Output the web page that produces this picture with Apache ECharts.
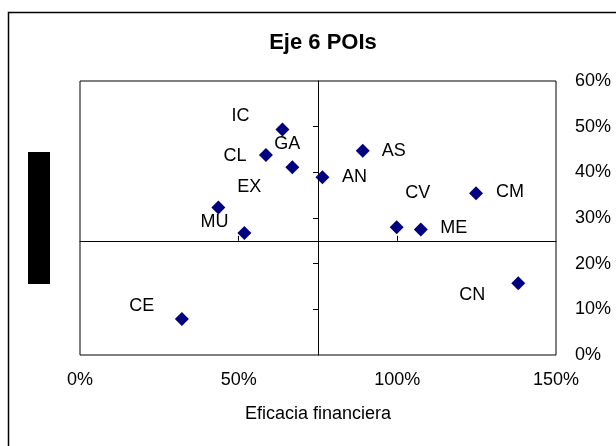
<!DOCTYPE html>
<html>
<head>
<meta charset="utf-8">
<script src="https://cdn.jsdelivr.net/npm/echarts@6/dist/echarts.min.js"></script>
<style>
html,body{margin:0;padding:0;background:#fff;}
#chart{width:616px;height:446px;}
</style>
</head>
<body>
<div id="chart"></div>
<script>
// Data (percent values)
var labels = ['IC','CL','GA','AN','EX','MU','CE','AS','CM','CV','ME','CN'];
var xValues = [63.8, 58.6, 66.9, 76.4, 43.6, 51.8, 32.1, 89.1, 124.8, 99.8, 107.4, 138.1];
var yValues = [49.4, 43.8, 41.1, 38.9, 32.3, 26.7, 7.9, 44.7, 35.4, 28.0, 27.5, 15.7];
var xTicks = [0, 50, 100, 150];
var yTicks = [0, 10, 20, 30, 40, 50, 60];
var crossX = 75, crossY = 25;

// Label placement (styling only)
var labelOffsets = [[-42,-13],[-31,1],[-5,-23],[32,0],[31,-20],[-30,-11],[-40,-13],[31,0],[34,-1],[21,-34],[33,-1],[-46,12]];

var FONT = "'Liberation Sans', Arial, sans-serif";
var chart = echarts.init(document.getElementById('chart'), null, {renderer:'canvas'});

var pts = labels.map(function(n, i){
  return {
    name: n,
    value: [xValues[i], yValues[i]],
    label: {offset: labelOffsets[i]}
  };
});

var xMin = xTicks[0], xMax = xTicks[xTicks.length-1];
var yMin = yTicks[0], yMax = yTicks[yTicks.length-1];
var xInnerTicks = xTicks.slice(1, -1);
var yInnerTicks = yTicks.slice(1, -1);

chart.setOption({
  animation: false,
  backgroundColor: '#ffffff',
  title: {
    text: 'Eje 6 POIs',
    left: 318, top: 27, textAlign: 'center',
    textStyle: {fontFamily: FONT, fontSize: 22, fontWeight: 'bold', color: '#000'}
  },
  grid: {
    left: 80, right: 60, top: 81, bottom: 91,
    show: true, borderColor: '#000', borderWidth: 1, backgroundColor: 'transparent',
    containLabel: false, outerBoundsMode: 'none'
  },
  xAxis: [
    {
      type: 'value', min: xMin, max: xMax, interval: 50, position: 'bottom',
      axisLine: {show: false}, axisTick: {show: false}, splitLine: {show: false},
      axisLabel: {formatter: '{value}%', fontFamily: FONT, fontSize: 18, color: '#000', margin: 16},
      name: 'Eficacia financiera', nameLocation: 'middle', nameGap: 50,
      nameTextStyle: {fontFamily: FONT, fontSize: 18, color: '#000'}
    },
    {
      type: 'value', min: xMin, max: xMax, interval: 50, position: 'bottom',
      axisLine: {show: true, onZero: true, onZeroAxisIndex: 2, lineStyle: {color: '#000', width: 1}},
      axisTick: {show: true, inside: true, length: 5, customValues: xInnerTicks, lineStyle: {color: '#000'}},
      axisLabel: {show: false}, splitLine: {show: false}
    },
    {
      type: 'value', min: -crossX, max: xMax - crossX, show: false,
      axisLine: {onZero: false}, splitLine: {show: false}
    }
  ],
  yAxis: [
    {
      type: 'value', min: yMin, max: yMax, interval: 10, position: 'right',
      axisLine: {show: false}, axisTick: {show: false}, splitLine: {show: false},
      axisLabel: {formatter: '{value}%', fontFamily: FONT, fontSize: 18, color: '#000', margin: 19}
    },
    {
      type: 'value', min: yMin, max: yMax, interval: 10, position: 'left',
      axisLine: {show: true, onZero: true, onZeroAxisIndex: 2, lineStyle: {color: '#000', width: 1}},
      axisTick: {show: true, inside: false, length: 5, customValues: yInnerTicks, lineStyle: {color: '#000'}},
      axisLabel: {show: false}, splitLine: {show: false}
    },
    {
      type: 'value', min: -crossY, max: yMax - crossY, show: false,
      axisLine: {onZero: false}, splitLine: {show: false}
    }
  ],
  series: [{
    type: 'scatter',
    xAxisIndex: 0, yAxisIndex: 0,
    symbol: 'diamond', symbolSize: 14,
    itemStyle: {color: '#000080', opacity: 1},
    label: {
      show: true, position: 'inside', formatter: '{b}',
      fontFamily: FONT, fontSize: 18, color: '#000',
      align: 'center', verticalAlign: 'middle'
    },
    emphasis: {disabled: true},
    data: pts,
    z: 10
  }],
  graphic: [
    {type: 'rect', shape: {x: 8.5, y: 12.5, width: 640, height: 460},
     style: {fill: 'none', stroke: '#000', lineWidth: 1.5}, silent: true},
    {type: 'rect', shape: {x: 28, y: 152, width: 22, height: 132},
     style: {fill: '#000'}, silent: true}
  ]
});
</script>
</body>
</html>
